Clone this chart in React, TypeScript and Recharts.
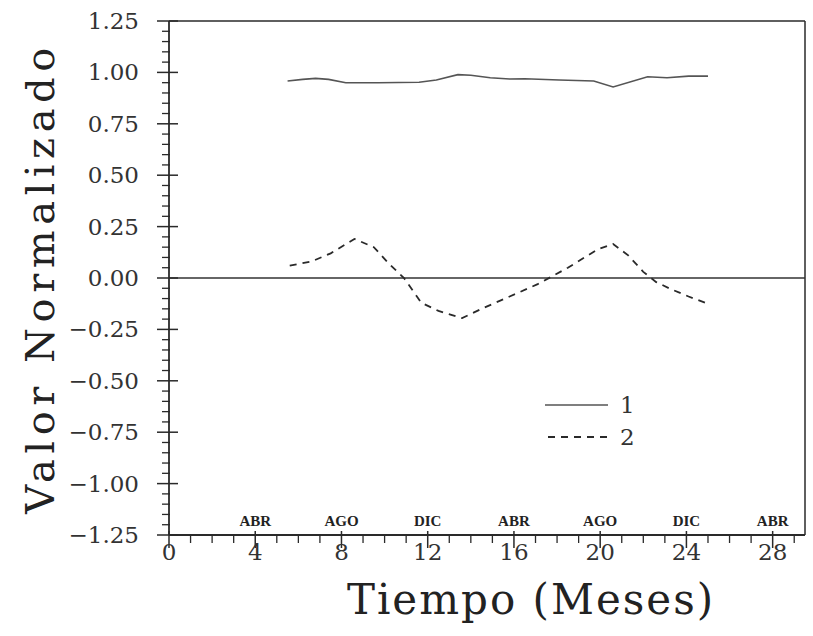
import React from "react";
import {
  ComposedChart,
  Line,
  Scatter,
  XAxis,
  YAxis,
  ReferenceLine,
} from "recharts";

// serie 1 (línea continua)
const serie1Mes = [5.5, 6.2, 6.8, 7.4, 8.2, 9.7, 11.6, 12.4, 13.4, 14.0, 14.9, 15.8, 16.5, 18.1, 19.7, 20.6, 22.2, 23.1, 24.1, 25.0];
const serie1Valor = [0.958, 0.966, 0.971, 0.966, 0.95, 0.95, 0.952, 0.963, 0.989, 0.986, 0.974, 0.968, 0.969, 0.963, 0.958, 0.929, 0.979, 0.974, 0.982, 0.982];

// serie 2 (línea discontinua)
const serie2Mes = [5.6, 6.6, 7.5, 8.6, 9.5, 10.2, 10.9, 11.7, 12.5, 13.6, 14.5, 15.8, 17.1, 18.5, 19.9, 20.6, 21.3, 22.0, 22.6, 23.3, 24.1, 25.0];
const serie2Valor = [0.06, 0.08, 0.12, 0.19, 0.15, 0.07, 0.0, -0.12, -0.16, -0.195, -0.15, -0.09, -0.03, 0.05, 0.14, 0.165, 0.11, 0.03, -0.02, -0.055, -0.09, -0.125];

const xMajorTicks = [0, 4, 8, 12, 16, 20, 24, 28];
const yMajorTicks = [1.25, 1.0, 0.75, 0.5, 0.25, 0, -0.25, -0.5, -0.75, -1.0, -1.25];

const mesesPos = [4, 8, 12, 16, 20, 24, 28];
const mesesTexto = ["ABR", "AGO", "DIC", "ABR", "AGO", "DIC", "ABR"];

const X_MAX = 29.5;

const serie1 = serie1Mes.map((m, i) => ({ mes: m, valor: serie1Valor[i] }));
const serie2 = serie2Mes.map((m, i) => ({ mes: m, valor: serie2Valor[i] }));
const etiquetasMes = mesesPos.map((m, i) => ({ mes: m, valor: -1.18, texto: mesesTexto[i] }));

// minor ticks
const xTicks: number[] = [];
for (let i = 0; i <= 29; i++) xTicks.push(i);
const yTicks: number[] = [];
for (let i = -25; i <= 25; i++) yTicks.push(i / 20);

const INK = "#2a2a2a";
const SERIF = "'DejaVu Serif', 'Liberation Serif', serif";

const fmt = (v: number) => {
  const s = Math.abs(v).toFixed(2);
  return v < 0 ? "\u2212" + s : s;
};

const isMajorY = (v: number) => yMajorTicks.some((t) => Math.abs(t - v) < 1e-6);

const YTick = (props: any) => {
  const { x, y, payload } = props;
  const v = payload.value;
  return (
    <g>
      {isMajorY(v) ? (
        <>
          <line x1={x - 12} x2={x + 9} y1={y} y2={y} stroke={INK} strokeWidth={1.5} />
          <text x={x - 30} y={y} dy={8} textAnchor="end" fontFamily={SERIF} fontSize={23} fill="#333">
            {fmt(v)}
          </text>
        </>
      ) : (
        <line x1={x - 7} x2={x + 1} y1={y} y2={y} stroke={INK} strokeWidth={1.3} />
      )}
    </g>
  );
};

const XTick = (props: any) => {
  const { x, y, payload } = props;
  const v = payload.value;
  const major = xMajorTicks.includes(v);
  return (
    <g>
      {major ? (
        <>
          <line x1={x} x2={x} y1={y - 4} y2={y + 13} stroke={INK} strokeWidth={1.5} />
          <text x={x} y={y + 17} dy={8} textAnchor="middle" fontFamily={SERIF} fontSize={23} fill="#333">
            {v}
          </text>
        </>
      ) : (
        <line x1={x} x2={x} y1={y} y2={y + 8} stroke={INK} strokeWidth={1.3} />
      )}
    </g>
  );
};

const MesLabel = (props: any) => {
  const { cx, cy, payload } = props;
  return (
    <text
      x={cx}
      y={cy}
      dy={5}
      textAnchor="middle"
      fontFamily="'Liberation Serif', serif"
      fontWeight="bold"
      fontSize={15}
      fill="#222"
    >
      {payload.texto}
    </text>
  );
};

export default function App() {
  return (
    <div style={{ position: "absolute", left: 0, top: 0, width: 813, height: 636, background: "#fff" }}>
      <ComposedChart
        width={813}
        height={636}
        margin={{ top: 21, right: 8, bottom: 0, left: 0 }}
      >
        <XAxis
          dataKey="mes"
          type="number"
          domain={[0, X_MAX]}
          ticks={xTicks}
          interval={0}
          tickSize={0}
          tickMargin={0}
          tickLine={false}
          tick={<XTick />}
          height={101}
          axisLine={{ stroke: INK, strokeWidth: 1.8 }}
          allowDataOverflow
          label={{
            content: () => (
              <text x={531} y={614} textAnchor="middle" fontFamily={SERIF} fontSize={42} letterSpacing={2} fill="#222">
                Tiempo (Meses)
              </text>
            ),
          }}
        />
        <YAxis
          type="number"
          domain={[-1.25, 1.25]}
          ticks={yTicks}
          interval={0}
          tickSize={0}
          tickMargin={0}
          tickLine={false}
          tick={<YTick />}
          width={169}
          axisLine={{ stroke: INK, strokeWidth: 1.8 }}
          allowDataOverflow
          label={{
            content: () => (
              <text
                x={40}
                y={278}
                transform="rotate(-90 40 278)"
                dy={14}
                textAnchor="middle"
                fontFamily={SERIF}
                fontSize={40}
                letterSpacing={5.5}
                fill="#222"
              >
                Valor Normalizado
              </text>
            ),
          }}
        />
        <ReferenceLine y={1.25} stroke={INK} strokeWidth={1.5} />
        <ReferenceLine x={X_MAX} stroke={INK} strokeWidth={1.5} />
        <ReferenceLine y={0} stroke="#333" strokeWidth={1.5} />
        <Line
          data={serie1}
          dataKey="valor"
          type="linear"
          stroke="#555"
          strokeWidth={1.6}
          dot={false}
          isAnimationActive={false}
        />
        <Line
          data={serie2}
          dataKey="valor"
          type="linear"
          stroke={INK}
          strokeWidth={1.8}
          strokeDasharray="7 6"
          dot={false}
          isAnimationActive={false}
        />
        <Scatter
          data={etiquetasMes}
          dataKey="valor"
          shape={<MesLabel />}
          isAnimationActive={false}
        />
      </ComposedChart>
      <svg width={120} height={60} style={{ position: "absolute", left: 540, top: 393 }}>
        <line x1={5} x2={68} y1={12} y2={12} stroke="#555" strokeWidth={1.5} />
        <text x={80} y={20} fontFamily={SERIF} fontSize={23} fill="#333">1</text>
        <line x1={8} x2={68} y1={44} y2={44} stroke={INK} strokeWidth={1.8} strokeDasharray="7 6" />
        <text x={80} y={52} fontFamily={SERIF} fontSize={23} fill="#333">2</text>
      </svg>
    </div>
  );
}
